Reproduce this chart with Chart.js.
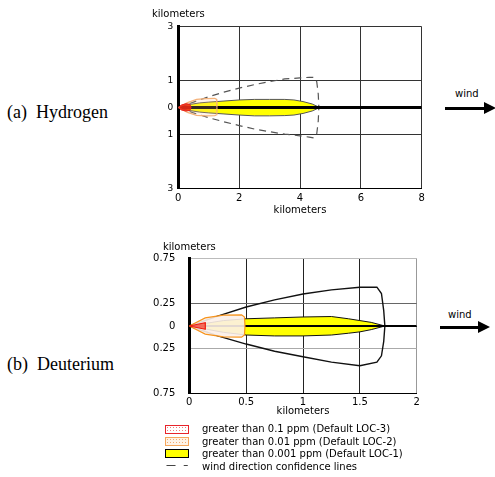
<!DOCTYPE html>
<html>
<head>
<meta charset="utf-8">
<script src="https://cdn.jsdelivr.net/npm/chart.js@4.4.1/dist/chart.umd.min.js"></script>
<style>
  body { margin: 0; background: #fff; }
  #page { position: relative; width: 495px; height: 477px; overflow: hidden; font-family: "DejaVu Sans", Verdana, sans-serif; color: #000; }
  canvas { position: absolute; }
  .t { position: absolute; white-space: pre; line-height: 1; }
  .name { font-family: "Liberation Serif", "Times New Roman", serif; font-size: 18px; }
  .small { font-size: 10px; line-height: 11px; }
  .shaft { position: absolute; height: 3px; background: #000; }
  .head { position: absolute; width: 0; height: 0; border-style: solid; border-color: transparent transparent transparent #000; }
  .box { position: absolute; left: 165px; width: 22px; height: 7px; }
</style>
</head>
<body>
<div id="page">
  <canvas id="h2" width="300" height="225" style="left:140px;top:0px"></canvas>
  <canvas id="d2" width="300" height="190" style="left:140px;top:230px"></canvas>

  <div class="t small" style="left:152px;top:8px">kilometers</div>
  <div class="t small" style="left:163px;top:241px">kilometers</div>

  <div class="t name" style="left:7px;top:103px">(a)  Hydrogen</div>
  <div class="t name" style="left:7px;top:355px">(b)  Deuterium</div>

  <div class="t small" style="left:455px;top:88px">wind</div>
  <div class="shaft" style="left:445px;top:106.5px;width:41px"></div>
  <div class="head" style="left:484px;top:101.5px;border-width:6.5px 0 6.5px 12px"></div>

  <div class="t small" style="left:448px;top:309px">wind</div>
  <div class="shaft" style="left:440px;top:325.5px;width:40px"></div>
  <div class="head" style="left:478px;top:320.5px;border-width:6px 0 6px 12px"></div>

  <div class="box" style="top:425px;border:1px solid #e8242b;background-color:#fff;background-image:radial-gradient(circle,#f07a7a 0.6px,transparent 0.8px);background-size:3px 3px"></div>
  <div class="box" style="top:437px;border:1px solid #f5a65b;background-color:#fff3e6;background-image:radial-gradient(circle,#f2aa70 0.6px,transparent 0.8px);background-size:3px 3px"></div>
  <div class="box" style="top:449px;border:1.5px solid #000;background:#ffff00"></div>
  <div class="t small" style="left:166px;top:459px;letter-spacing:2px">— –</div>
  <div class="t small" style="left:202px;top:423px">greater than 0.1 ppm (Default LOC-3)</div>
  <div class="t small" style="left:202px;top:435.5px">greater than 0.01 ppm (Default LOC-2)</div>
  <div class="t small" style="left:202px;top:448px">greater than 0.001 ppm (Default LOC-1)</div>
  <div class="t small" style="left:202px;top:460.5px">wind direction confidence lines</div>
</div>

<script>
// Hydrogen release (top plot), distances in km
const h2YTicks = [-3, -1, 0, 1, 3];
const h2AxisX = [0, 8];
const h2AxisY = [0, 0];

const h2Loc3X = [0, 0.1, 0.25, 0.38, 0.42];
const h2Loc3Up = [0, 0.09, 0.14, 0.12, 0];
const h2Loc3Lo = [0, -0.09, -0.13, -0.11, 0];

const h2Loc2X = [0, 0.3, 0.6, 0.9, 1.2, 1.26, 1.27];
const h2Loc2Up = [0, 0.18, 0.3, 0.33, 0.34, 0.3, 0];
const h2Loc2Lo = [0, -0.18, -0.29, -0.31, -0.3, -0.27, 0];

const h2Loc1X = [0, 0.3, 0.7, 1.0, 1.5, 2.0, 2.5, 3.0, 3.5, 3.8, 4.1, 4.4, 4.65];
const h2Loc1Up = [0, 0.1, 0.17, 0.2, 0.24, 0.28, 0.3, 0.3, 0.3, 0.28, 0.22, 0.13, 0];
const h2Loc1Lo = [0, -0.1, -0.17, -0.2, -0.24, -0.28, -0.31, -0.31, -0.3, -0.28, -0.22, -0.13, 0];

const h2ConfX = [0, 0.5, 1.0, 1.5, 2.0, 2.5, 3.0, 3.5, 4.0, 4.3, 4.46, 4.55, 4.6, 4.62];
const h2ConfUp = [0, 0.2, 0.4, 0.57, 0.72, 0.85, 0.96, 1.06, 1.1, 1.12, 1.12, 0.96, 0.5, 0];
const h2ConfLo = [0, -0.2, -0.38, -0.53, -0.67, -0.8, -0.9, -0.99, -1.05, -1.1, -1.13, -0.98, -0.5, 0];

// Deuterium release (bottom plot), distances in km
const d2YTicks = [-0.75, -0.25, 0, 0.25, 0.75];
const d2AxisX = [0, 2];
const d2AxisY = [0, 0];

const d2Loc3X = [0, 0.14, 0.141];
const d2Loc3Up = [0, 0.036, 0];
const d2Loc3Lo = [0, -0.036, 0];

const d2Loc2X = [0, 0.14, 0.3, 0.46, 0.485, 0.49];
const d2Loc2Up = [0, 0.09, 0.12, 0.124, 0.1, 0];
const d2Loc2Lo = [0, -0.09, -0.12, -0.124, -0.1, 0];

const d2Loc1X = [0, 0.15, 0.3, 0.5, 0.75, 1.0, 1.25, 1.4, 1.5, 1.6, 1.72];
const d2Loc1Up = [0, 0.03, 0.06, 0.08, 0.09, 0.1, 0.105, 0.08, 0.06, 0.04, 0];
const d2Loc1Lo = [0, -0.035, -0.07, -0.1, -0.11, -0.11, -0.1, -0.08, -0.065, -0.04, 0];

const d2ConfX = [0, 0.25, 0.5, 0.75, 1.0, 1.25, 1.5, 1.65, 1.69, 1.71, 1.72];
const d2ConfUp = [0, 0.11, 0.21, 0.29, 0.355, 0.4, 0.43, 0.43, 0.36, 0.17, 0];
const d2ConfLo = [0, -0.11, -0.2, -0.28, -0.34, -0.4, -0.44, -0.4, -0.33, -0.17, 0];

Chart.defaults.font.family = "'DejaVu Sans', Verdana, sans-serif";
Chart.defaults.color = '#000';

function pts(xs, ys) {
  return xs.map((x, i) => ({ x, y: ys[i] }));
}

function line(data, color, width, dash) {
  return { data, borderColor: color, borderWidth: width, borderDash: dash || [], pointRadius: 0, tension: 0, fill: false };
}

// upper edge + lower edge, lower one fills back up to the upper
function plume(xs, up, lo, color, width, fillColor, dash) {
  const lower = line(pts(xs, lo), color, width, dash);
  lower.fill = '-1';
  lower.backgroundColor = fillColor;
  return [line(pts(xs, up), color, width, dash), lower];
}

function makeChart(id, datasets, o) {
  return new Chart(document.getElementById(id), {
    type: 'line',
    data: { datasets },
    options: {
      responsive: false,
      animation: false,
      events: [],
      layout: { padding: o.pad },
      plugins: { legend: { display: false }, tooltip: { enabled: false } },
      scales: {
        x: {
          type: 'linear', min: o.xMin, max: o.xMax,
          ticks: { stepSize: o.xStep, padding: o.xPad, font: { size: 10 }, color: '#000', callback: v => String(v) },
          grid: { color: o.xGrid, drawTicks: false },
          border: { color: '#000', width: 1 },
          title: { display: true, text: 'kilometers', font: { size: 10 }, padding: { top: 0, bottom: o.titlePad } },
          afterFit: s => { s.height = o.xHeight; },
        },
        y: {
          type: 'linear', min: o.yTicks[0], max: o.yTicks[o.yTicks.length - 1],
          afterBuildTicks: s => { s.ticks = o.yTicks.map(v => ({ value: v })); },
          ticks: { callback: v => String(Math.abs(v)), padding: o.yPad, font: { size: o.yFont }, color: '#000' },
          grid: { color: o.yGrid, drawTicks: false },
          border: { color: '#000', width: 3 },
          afterFit: s => { s.width = o.yWidth; },
        },
      },
    },
  });
}

makeChart('h2', [
  ...plume(h2Loc3X, h2Loc3Up, h2Loc3Lo, '#e8241b', 1, 'rgba(240,40,20,0.85)'),
  ...plume(h2Loc2X, h2Loc2Up, h2Loc2Lo, '#f4b27a', 1.2, 'rgba(255,200,150,0.2)'),
  line(pts(h2AxisX, h2AxisY), '#000', 3),
  ...plume(h2Loc1X, h2Loc1Up, h2Loc1Lo, '#555', 1, '#ffff00'),
  line(pts(h2ConfX, h2ConfUp), '#555', 1.2, [7, 5]),
  line(pts(h2ConfX, h2ConfLo), '#555', 1.2, [7, 5]),
], {
  pad: { left: 0, top: 26.7, right: 18.3, bottom: 0 },
  xMin: 0, xMax: 8, xStep: 2, xPad: 4, xHeight: 36.7, titlePad: 9,
  xGrid: '#333',
  yTicks: h2YTicks, yPad: 5, yFont: 9, yWidth: 38.3,
  yGrid: '#333',
});

makeChart('d2', [
  ...plume(d2Loc3X, d2Loc3Up, d2Loc3Lo, '#ee1c10', 1.2, 'rgba(245,70,50,0.75)'),
  ...plume(d2Loc2X, d2Loc2Up, d2Loc2Lo, '#f7941d', 1.2, 'rgba(252,240,232,0.9)'),
  line(pts(d2AxisX, d2AxisY), '#000', 2),
  ...plume(d2Loc1X, d2Loc1Up, d2Loc1Lo, '#111', 1, '#ffff00'),
  line(pts(d2ConfX, d2ConfUp), '#111', 1.4),
  line(pts(d2ConfX, d2ConfLo), '#111', 1.4),
], {
  pad: { left: 0, top: 28.3, right: 23.3, bottom: 0 },
  xMin: 0, xMax: 2, xStep: 0.5, xPad: 3, xHeight: 26.3, titlePad: 3,
  xGrid: c => (c.tick && c.tick.value === 2 ? '#999' : '#222'),
  yTicks: d2YTicks, yPad: 14, yFont: 10, yWidth: 49.3,
  yGrid: c => {
    const v = c.tick ? c.tick.value : 0;
    if (v === 0.75) return '#bbb';
    if (v === 0.25) return '#666';
    if (v === -0.25) return '#aaa';
    return '#000';
  },
});
</script>
</body>
</html>
